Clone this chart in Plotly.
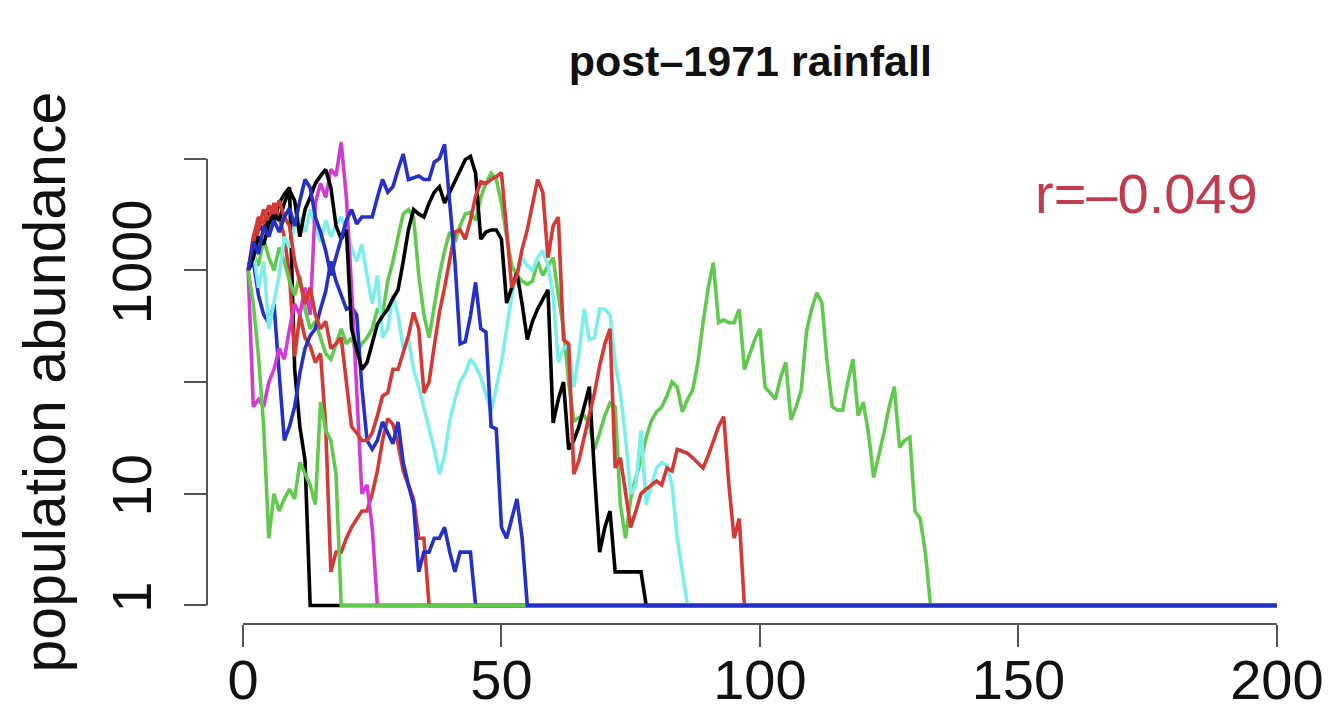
import plotly.graph_objects as go
import math

# ---- data: population abundance per time step (t = 1, 2, ...) ----
HORIZON = 200
black_1 = [1000, 1700, 2600, 2200, 3300, 2700, 4000, 4800, 5500, 130, 40, 20, 1]
red_2 = [1000, 1500, 2400, 3500, 2800, 4000, 3000, 2000, 900, 170, 400, 250, 210, 150, 180, 40,
         2, 3, 3, 4, 5, 6, 7, 7, 10, 16, 30, 47, 42, 28, 16, 12, 9, 4, 4, 1]
green_3 = [1000, 1400, 1100, 1900, 1300, 1000, 1600, 1200, 800, 600, 900, 450, 300, 350, 250, 180,
           160, 220, 300, 220, 250, 180, 220, 250, 300, 450, 400, 800, 1200, 2000, 3200, 3500, 3000,
           900, 400, 250, 500, 900, 1500, 2200, 1800, 2500, 3200, 3300, 2800, 4500, 6000, 7400, 6500,
           4000, 2000, 1100, 900, 800, 750, 800, 1200, 900, 1100, 1300, 600, 300, 100, 45, 48, 50, 42,
           25, 35, 50, 65, 60, 8, 4, 9, 14, 20, 32, 45, 54, 60, 75, 100, 90, 54, 70, 85, 150, 340, 700,
           1170, 340, 360, 340, 340, 450, 130, 180, 240, 300, 90, 80, 70, 110, 150, 46, 60, 85, 280,
           450, 630, 510, 150, 60, 56, 56, 100, 160, 50, 66, 35, 14, 22, 35, 60, 91, 26, 30, 32, 7, 6,
           3, 1]
blue_4 = [1000, 1200, 600, 400, 340, 500, 120, 30, 40, 60, 120, 200, 260, 300, 450, 650, 1200, 800,
          600, 450, 470, 400, 90, 30, 25, 30, 44, 35, 28, 44, 19, 12, 8, 2, 3, 3, 4, 4, 5, 3, 2, 3, 3,
          3, 1]
cyan_5 = [1000, 1500, 700, 1200, 300, 500, 900, 2000, 1600, 2500, 3000, 2200, 3500, 2500, 1800, 2800,
          2000, 2600, 3000, 2300, 1600, 1200, 1700, 900, 500, 900, 250, 300, 600, 400, 200, 250, 130,
          90, 60, 40, 25, 15, 22, 45, 70, 100, 120, 160, 140, 110, 80, 55, 90, 150, 300, 600, 900,
          1300, 1100, 1000, 1300, 1500, 1100, 600, 150, 200, 210, 90, 180, 450, 240, 250, 450, 450,
          400, 150, 80, 32, 10, 12, 37, 8, 12, 17, 19, 18, 12, 4, 2, 1]
magenta_6 = [1000, 60, 70, 60, 100, 130, 200, 160, 300, 500, 400, 700, 400, 4000, 6000, 4500, 8000,
             7000, 14000, 4500, 700, 75, 10, 12, 5, 1]
black_7 = [1000, 1300, 2000, 1700, 2600, 3200, 2800, 4000, 5200, 4200, 2000, 3500, 4500, 6000, 7000,
           8000, 5500, 2500, 1900, 2300, 300, 200, 130, 150, 230, 330, 390, 450, 560, 670, 1200, 2300,
           3500, 3200, 3000, 4000, 5000, 5600, 4000, 5000, 6200, 8000, 9800, 10500, 7400, 1900, 2200,
           2300, 2300, 1900, 510, 700, 950, 500, 240, 350, 450, 550, 670, 43, 70, 100, 25, 30, 40, 60,
           91, 15, 3, 5, 7, 2, 2, 2, 2, 2, 2, 1]
red_8 = [1000, 2000, 3000, 2600, 3800, 3200, 4200, 3000, 2500, 1200, 800, 500, 700, 400, 300, 350,
         200, 220, 250, 100, 40, 35, 30, 30, 35, 50, 75, 80, 130, 130, 180, 260, 420, 300, 80, 100,
         210, 420, 700, 1200, 2200, 2300, 1900, 2800, 4600, 6200, 6000, 6500, 6900, 7500, 2300, 700,
         900, 1550, 2300, 4000, 6500, 5000, 1300, 2500, 3000, 240, 220, 15, 20, 32, 50, 80, 140, 220,
         300, 17, 21, 10, 5, 7, 10, 11, 12, 13, 12, 17, 16, 25, 24, 23, 21, 19, 17, 22, 30, 40, 49, 12,
         4, 6, 1]
green_9 = [1000, 500, 170, 40, 4, 10, 7, 9, 11, 9, 19, 15, 12, 8, 66, 37, 30, 15, 1]
blue_10 = [1000, 1800, 1400, 2500, 2000, 2800, 2200, 3000, 3600, 2500, 4200, 6500, 5500, 3000, 2200,
           1500, 900, 1300, 2000, 2800, 3500, 2600, 3000, 3000, 3000, 4500, 6500, 5000, 5600, 8000,
           11000, 6500, 6800, 7000, 6500, 6500, 9300, 10000, 13400, 4300, 1200, 220, 230, 390, 780,
           300, 280, 40, 38, 5, 4, 6, 9, 4, 1]

series = [
    (black_1, "#000000"), (red_2, "#D33A36"), (green_3, "#62C94F"), (blue_4, "#2530C8"),
    (cyan_5, "#7DEFEA"), (magenta_6, "#D03CD0"), (black_7, "#000000"), (red_8, "#D33A36"),
    (green_9, "#62C94F"), (blue_10, "#2530C8"),
]

x_ticks = [0, 50, 100, 150, 200]
y_ticks = [1, 10, 100, 1000, 10000]
y_tick_text = ["1", "10", "", "1000", ""]

XR = [-6.96, 207.96]
YR = [-0.166, 4.31]

fig = go.Figure()
for vals, col in series:
    t = list(range(1, len(vals) + 1)) + [HORIZON]
    v = vals + [1]
    fig.add_trace(go.Scatter(x=t, y=v, mode="lines", line=dict(color=col, width=3.6),
                             showlegend=False, hoverinfo="skip"))

FONT = "Liberation Sans, Arial, Helvetica, sans-serif"
AXC = "#555555"

fig.update_layout(
    width=1339, height=724,
    margin=dict(l=207, r=21, t=124, b=100, autoexpand=False),
    plot_bgcolor="white", paper_bgcolor="white",
    font=dict(family=FONT, color="#111111"),
    title=dict(text="<b>post–1971 rainfall</b>", x=0.489, xref="paper", xanchor="center",
               y=1 - 61 / 724, yref="container", yanchor="middle",
               font=dict(size=43, family=FONT, color="#111111")),
    xaxis=dict(range=XR, showgrid=False, zeroline=False, showline=False, automargin=False,
               tickmode="array", tickvals=x_ticks, ticks="outside", ticklen=22, tickwidth=2,
               tickcolor=AXC, ticklabelstandoff=-15, tickfont=dict(size=56, color="#111111")),
    yaxis=dict(type="log", range=YR, showgrid=False, zeroline=False, showline=False, automargin=False,
               tickmode="array", tickvals=y_ticks, ticktext=y_tick_text, ticks="outside",
               ticklen=22, tickwidth=2, tickcolor=AXC, tickangle=-90, ticklabelstandoff=11,
               tickfont=dict(size=56, color="#111111")),
)

# R-style axis lines spanning first to last tick
def yfrac(v):
    return (math.log10(v) - YR[0]) / (YR[1] - YR[0])

def xfrac(v):
    return (v - XR[0]) / (XR[1] - XR[0])

fig.add_shape(type="line", xref="paper", yref="paper", x0=xfrac(x_ticks[0]), x1=xfrac(x_ticks[-1]),
              y0=0, y1=0, line=dict(color=AXC, width=2))
fig.add_shape(type="line", xref="paper", yref="paper", x0=0, x1=0,
              y0=yfrac(y_ticks[0]), y1=yfrac(y_ticks[-1]), line=dict(color=AXC, width=2))

fig.add_annotation(text="population abundance", textangle=-90, xref="paper", yref="paper",
                   x=0, y=0.483, xshift=-163, xanchor="center", yanchor="middle", showarrow=False,
                   font=dict(size=59, family=FONT, color="#111111"))
fig.add_annotation(text="r=–0.049", xref="paper", yref="paper", x=0.948, y=0.862,
                   xanchor="right", yanchor="middle", showarrow=False,
                   font=dict(size=56, family=FONT, color="#C23A4E"))

fig.write_html("out.html")
